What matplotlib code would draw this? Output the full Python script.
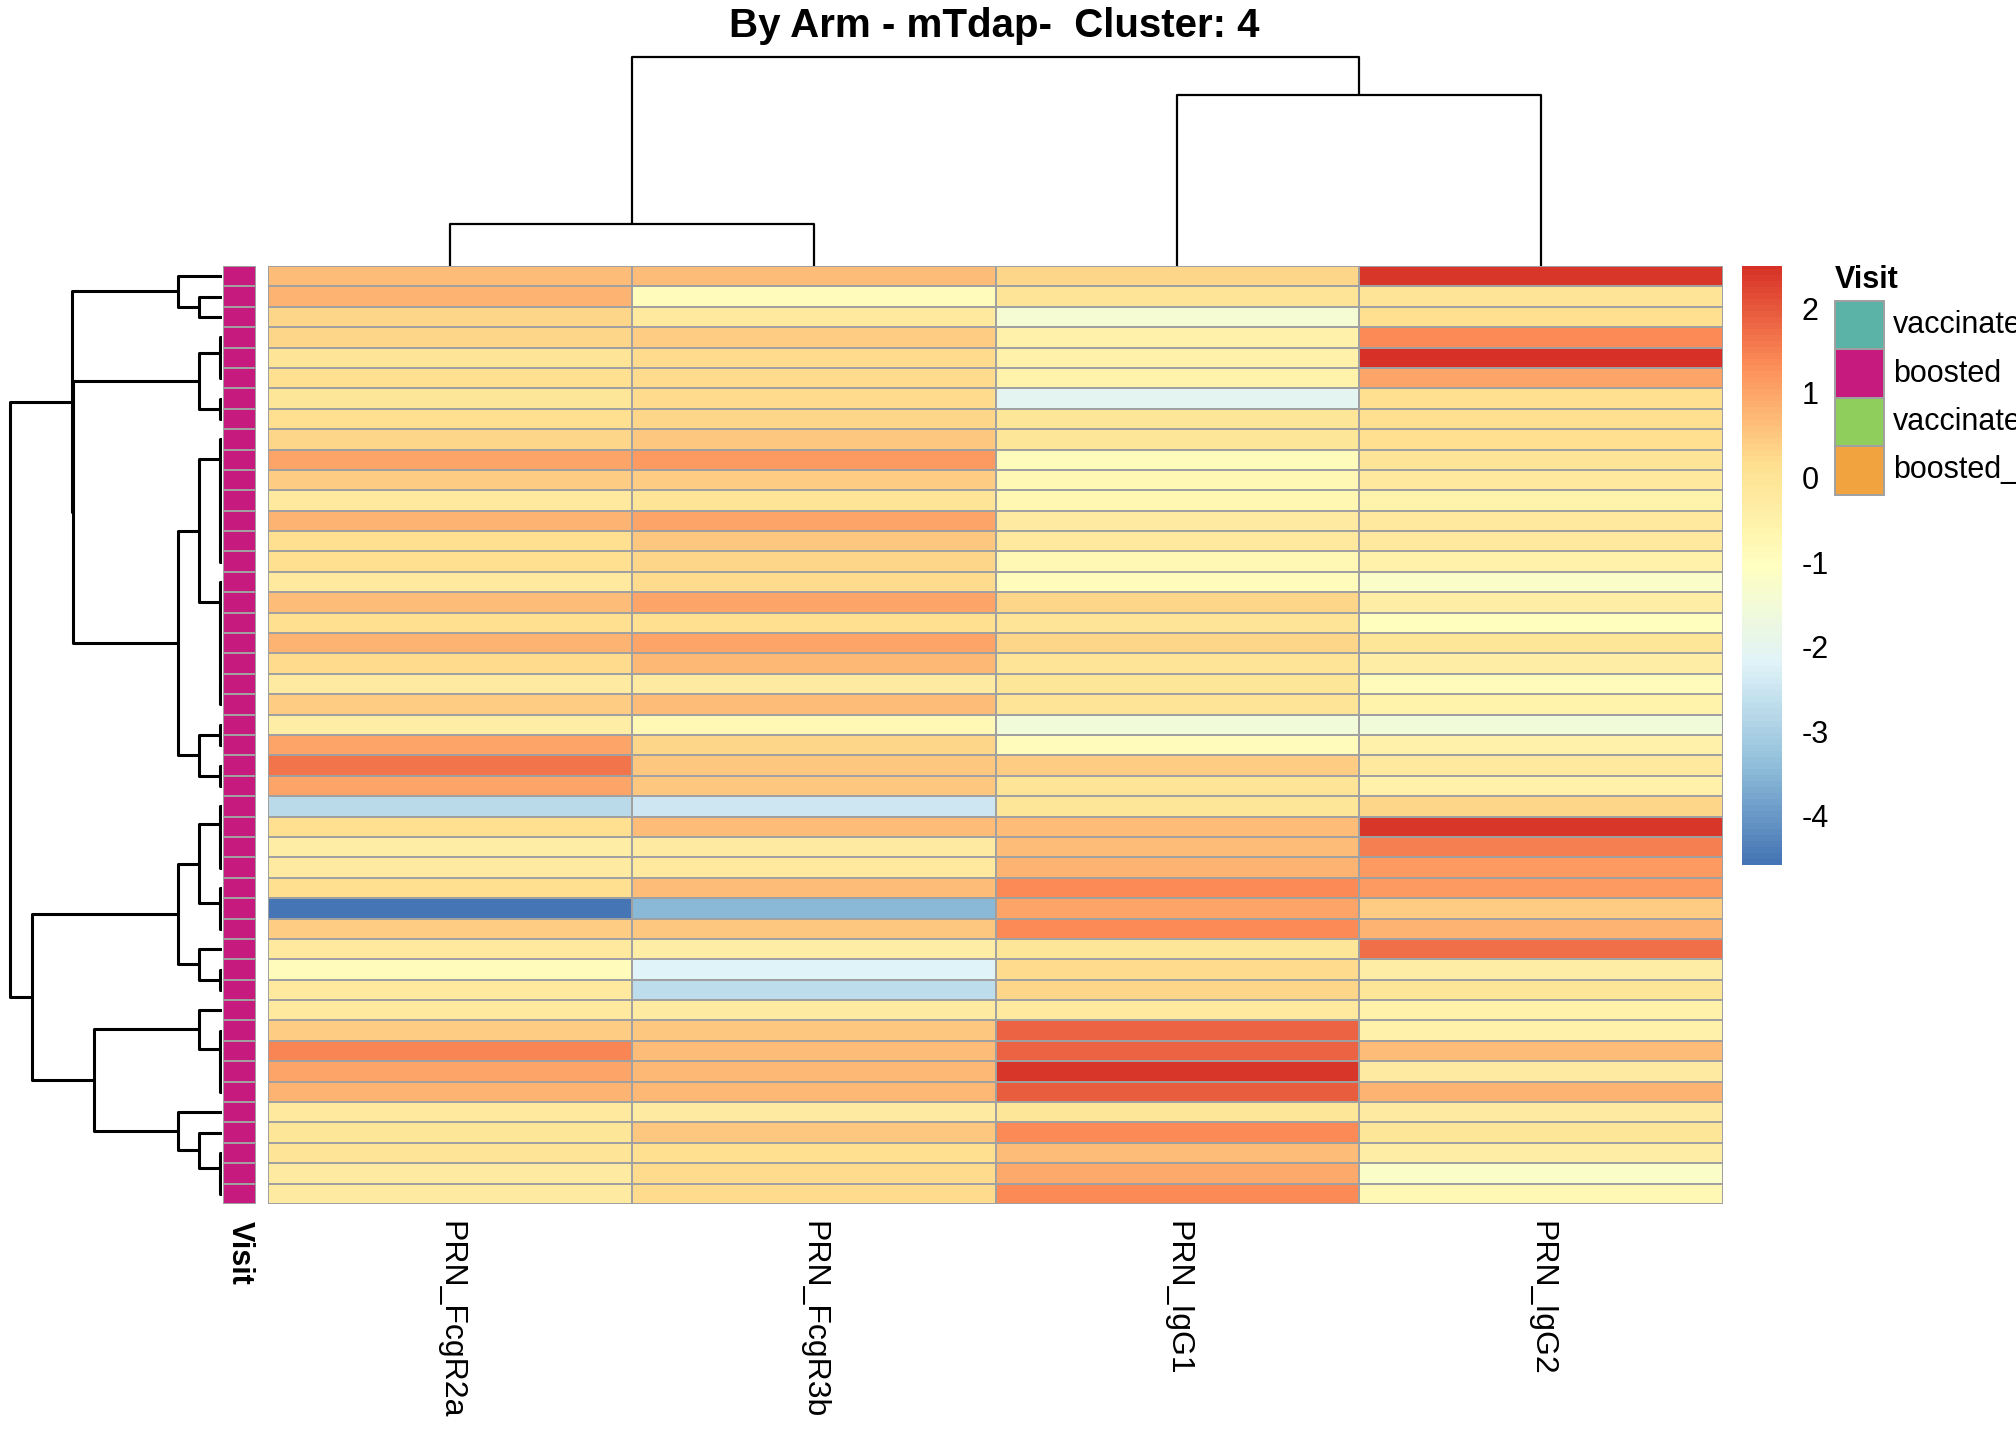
import numpy as np
import matplotlib
matplotlib.use("Agg")
import matplotlib.pyplot as plt
from matplotlib.colors import LinearSegmentedColormap, ListedColormap

plt.rcParams['font.family'] = ['Liberation Sans', 'DejaVu Sans']

# column labels in display order
features = ["PRN_FcgR2a", "PRN_FcgR3b", "PRN_IgG1", "PRN_IgG2"]

# z-scores, rows top to bottom
fcgr2a = [0.6, 0.8, 0.3, 0.3, 0.0, 0.1, -0.1, 0.1, 0.3, 1.0, 0.4, -0.2, 0.8, 0.1, 0.1, -0.2,
          0.6, 0.1, 0.8, 0.2, -0.3, 0.4, -0.4, 1.0, 1.6, 1.0, -2.8, 0.1, -0.4, -0.3, 0.1,
          -4.56, 0.4, -0.2, -0.9, -0.2, -0.2, 0.4, 1.4, 1.0, 0.8, -0.2, -0.1, 0.0, -0.3, -0.3]
fcgr3b = [0.6, -0.9, -0.2, 0.4, 0.2, 0.2, 0.2, 0.3, 0.5, 1.1, 0.4, 0.0, 1.0, 0.5, 0.3, 0.2,
          1.0, 0.1, 1.0, 0.7, -0.3, 0.6, -0.8, 0.3, 0.5, 0.5, -2.5, 0.6, -0.3, -0.2, 0.6,
          -3.5, 0.5, -0.4, -2.2, -2.7, -0.3, 0.5, 0.6, 0.7, 0.7, -0.3, 0.5, 0.1, 0.2, 0.2]
igg1 = [0.3, 0.0, -1.4, -0.5, -0.5, -0.6, -2.1, -0.1, -0.1, -0.9, -0.8, -0.7, -0.3, -0.2,
        -0.8, -0.9, 0.3, 0.0, 0.3, 0.0, -0.1, 0.0, -1.6, -0.9, 0.4, 0.0, -0.1, 0.6, 0.6, 0.8,
        1.3, 1.0, 1.3, -0.1, 0.2, 0.3, -0.2, 1.8, 1.8, 2.4, 1.9, -0.1, 1.3, 0.6, 0.9, 1.3]
igg2 = [2.4, 0.0, 0.1, 1.3, 2.5, 1.0, 0.1, 0.1, 0.1, 0.0, -0.2, -0.6, -0.2, -0.2, -0.5,
        -1.2, -0.4, -1.0, -0.1, -0.4, -0.9, -0.6, -1.6, -0.5, -0.2, -0.5, 0.3, 2.4, 1.5, 1.1,
        1.1, 0.4, 0.8, 1.7, -0.4, -0.1, -0.5, -0.5, 0.6, -0.3, 0.8, -0.3, -0.1, -0.4, -1.2, -0.8]

visit_levels = ["vaccinated", "boosted", "vaccinated_2", "boosted_2"]
visit_colors = ["#5BB3A8", "#C71A7E", "#8FCD5C", "#F0A33F"]
row_visit = ["boosted"] * 46

vmin, vmax = -4.58, 2.5
cbar_ticks = [-4, -3, -2, -1, 0, 1, 2]


# dendrogram trees: (left, right, height); leaves are row / column indices
def grp(a, b, h=2):
    # tight cluster of neighbouring rows, nested from the bottom up
    node = b
    for i in range(b - 1, a - 1, -1):
        node = (i, node, h)
    return node

A = (0, (1, 2, 23), 44)
B = (grp(3, 5), grp(6, 7), 23)
C = (grp(8, 14), grp(15, 21), 23)
E = (grp(22, 23), grp(24, 25), 23)
D = (C, E, 44)
top = (A, (B, D, 149), 150)
G = (grp(26, 29), grp(30, 32), 23)
H = (33, grp(34, 35), 23)
I = (G, H, 44)
K = (36, grp(37, 40), 23)
L = (41, (42, grp(43, 45), 23), 44)
J = (K, L, 128)
row_tree = (top, (I, J, 190), 212)

col_tree = ((0, 1, 42), (2, 3, 171), 209)


def draw_tree(ax, node, horizontal, lw):
    # returns (position, height) of node
    if isinstance(node, int):
        return node + 0.5, 0
    l, r, h = node
    pl, hl = draw_tree(ax, l, horizontal, lw)
    pr, hr = draw_tree(ax, r, horizontal, lw)
    if horizontal:
        ax.plot([hl, h, h, hr], [pl, pl, pr, pr], color="black", lw=lw, solid_capstyle="butt")
    else:
        ax.plot([pl, pl, pr, pr], [hl, h, h, hr], color="black", lw=lw, solid_capstyle="butt")
    return (pl + pr) / 2, h


W, Hpx = 2016, 1440
def box(x0, y0, x1, y1):
    return [x0 / W, 1 - y1 / Hpx, (x1 - x0) / W, (y1 - y0) / Hpx]

data = np.array([fcgr2a, fcgr3b, igg1, igg2]).T
nrow, ncol = data.shape

rdylbu = ["#4575B4", "#91BFDB", "#E0F3F8", "#FFFFBF", "#FEE090", "#FC8D59", "#D73027"]
cmap = LinearSegmentedColormap.from_list("heat", rdylbu, N=100)

fig = plt.figure(figsize=(20.16, 14.4), dpi=100)

# heatmap
ax = fig.add_axes(box(268, 266, 1723, 1204))
ax.pcolormesh(data, cmap=cmap, vmin=vmin, vmax=vmax, edgecolors="#A0A0A0", linewidth=1.4)
ax.set_xlim(0, ncol)
ax.set_ylim(nrow, 0)
ax.set_xticks(np.arange(ncol) + 0.5)
ax.set_xticklabels(features, rotation=270, fontsize=23)
ax.set_yticks([])
ax.tick_params(axis="x", length=0, pad=12)
for s in ax.spines.values():
    s.set_visible(False)

# annotation column
aax = fig.add_axes(box(223, 266, 256, 1204))
ann = np.array([[visit_levels.index(v)] for v in row_visit])
aax.pcolormesh(ann, cmap=ListedColormap(visit_colors), vmin=-0.5, vmax=3.5,
               edgecolors="#A0A0A0", linewidth=1.4)
aax.set_xlim(0, 1)
aax.set_ylim(nrow, 0)
aax.set_xticks([0.5])
aax.set_xticklabels(["Visit"], rotation=270, fontsize=22, fontweight="bold")
aax.set_yticks([])
aax.tick_params(axis="x", length=0, pad=12)
for s in aax.spines.values():
    s.set_visible(False)

# row dendrogram
rax = fig.add_axes(box(0, 266, 222, 1204))
draw_tree(rax, row_tree, True, 2.2)
rax.set_xlim(222, 0)
rax.set_ylim(nrow, 0)
rax.axis("off")

# column dendrogram
cax = fig.add_axes(box(268, 0, 1723, 266))
draw_tree(cax, col_tree, False, 1.6)
cax.set_xlim(0, ncol)
cax.set_ylim(0, 266)
cax.axis("off")

fig.text(994 / W, 1 - 26 / Hpx, "By Arm - mTdap-  Cluster: 4", ha="center", va="center",
         fontsize=29, fontweight="bold")

# colorbar
bax = fig.add_axes(box(1742, 266, 1782, 865))
grad = np.linspace(vmin, vmax, 200).reshape(-1, 1)
bax.pcolormesh([0, 1], grad[:, 0], grad[:-1], cmap=cmap, vmin=vmin, vmax=vmax)
bax.set_ylim(vmin, vmax)
bax.set_xticks([])
bax.yaxis.tick_right()
bax.set_yticks(cbar_ticks)
bax.set_yticklabels([str(t) for t in cbar_ticks], fontsize=22)
bax.tick_params(axis="y", length=0, pad=14)
for s in bax.spines.values():
    s.set_visible(False)

# legend for Visit
fig.text(1835 / W, 1 - 280 / Hpx, "Visit", fontsize=22, fontweight="bold", va="center")
for i, (lab, col) in enumerate(zip(visit_levels, visit_colors)):
    y0 = 301 + i * 48.5
    fig.patches.append(plt.Rectangle((1835 / W, 1 - (y0 + 48.5) / Hpx), 49 / W, 48.5 / Hpx,
                                     transform=fig.transFigure, facecolor=col,
                                     edgecolor="#A0A0A0", lw=1.4))
    fig.text(1893 / W, 1 - (y0 + 24) / Hpx, lab, fontsize=22, va="center")

fig.savefig("out.png", dpi=100)
